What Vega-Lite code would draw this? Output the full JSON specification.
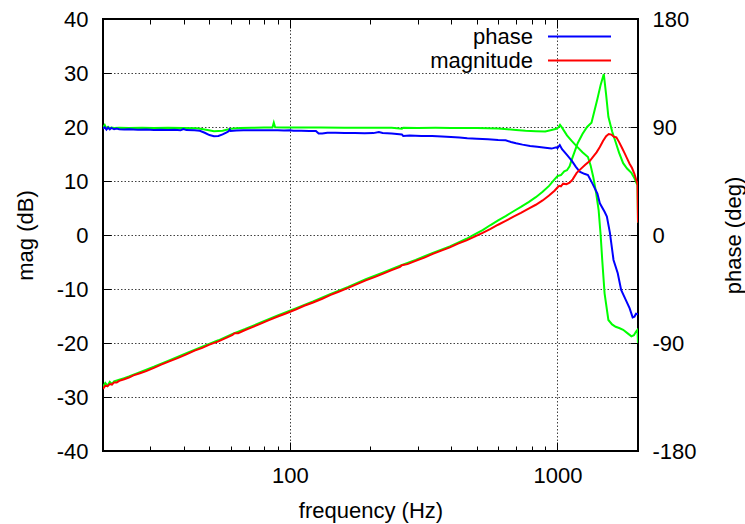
{
  "$schema": "https://vega.github.io/schema/vega-lite/v6.json",
  "width": 535,
  "height": 432,
  "autosize": {"type": "none"},
  "padding": {"left": 103, "top": 19, "right": 107, "bottom": 73},
  "background": "white",
  "config": {
    "font": "Liberation Sans",
    "view": {"stroke": "black", "strokeWidth": 2},
    "axis": {
      "domain": false,
      "labelFont": "Liberation Sans",
      "labelFontSize": 22,
      "labelColor": "black",
      "titleFont": "Liberation Sans",
      "titleFontSize": 22,
      "titleFontWeight": "normal",
      "titleColor": "black",
      "tickColor": "black",
      "tickWidth": 1,
      "gridColor": "#000000",
      "gridOpacity": 0.75,
      "gridDash": [1.5, 2],
      "gridWidth": 1,
      "labelOverlap": false,
      "labelFlush": false
    },
    "legend": {"labelFont": "Liberation Sans", "labelFontSize": 22, "labelColor": "black"}
  },
  "datasets": {
    "magnitude": [
      {"f": 20, "v": -28.5}, {"f": 20.4, "v": -27.9}, {"f": 20.8, "v": -28.0}, {"f": 21.2, "v": -27.6}, {"f": 21.6, "v": -27.7},
      {"f": 22, "v": -27.3}, {"f": 22.5, "v": -27.3}, {"f": 23, "v": -27.0}, {"f": 24, "v": -26.7}, {"f": 25, "v": -26.4},
      {"f": 26, "v": -26.0}, {"f": 27.5, "v": -25.6}, {"f": 29, "v": -25.2}, {"f": 31, "v": -24.6}, {"f": 33, "v": -24.0},
      {"f": 35, "v": -23.5}, {"f": 38, "v": -22.8}, {"f": 41, "v": -22.1}, {"f": 44, "v": -21.4}, {"f": 47, "v": -20.9},
      {"f": 50, "v": -20.3}, {"f": 54, "v": -19.7}, {"f": 58, "v": -19.0}, {"f": 61, "v": -18.5}, {"f": 62, "v": -18.2},
      {"f": 64, "v": -18.2}, {"f": 68, "v": -17.6}, {"f": 72, "v": -17.1}, {"f": 77, "v": -16.5}, {"f": 83, "v": -15.8},
      {"f": 90, "v": -15.1}, {"f": 97, "v": -14.5}, {"f": 105, "v": -13.8}, {"f": 113, "v": -13.1}, {"f": 122, "v": -12.5},
      {"f": 132, "v": -11.8}, {"f": 142, "v": -11.1}, {"f": 152, "v": -10.5}, {"f": 165, "v": -9.8}, {"f": 178, "v": -9.1},
      {"f": 192, "v": -8.4}, {"f": 207, "v": -7.8}, {"f": 222, "v": -7.2}, {"f": 240, "v": -6.5}, {"f": 258, "v": -5.9},
      {"f": 262, "v": -5.6}, {"f": 275, "v": -5.4}, {"f": 295, "v": -4.8}, {"f": 318, "v": -4.2}, {"f": 342, "v": -3.5},
      {"f": 368, "v": -2.9}, {"f": 396, "v": -2.3}, {"f": 425, "v": -1.6}, {"f": 457, "v": -1.0}, {"f": 490, "v": -0.3},
      {"f": 525, "v": 0.4}, {"f": 560, "v": 1.1}, {"f": 600, "v": 1.9}, {"f": 640, "v": 2.6}, {"f": 685, "v": 3.4},
      {"f": 730, "v": 4.1}, {"f": 780, "v": 4.9}, {"f": 830, "v": 5.6}, {"f": 880, "v": 6.4}, {"f": 930, "v": 7.3},
      {"f": 975, "v": 8.2}, {"f": 1000, "v": 8.8}, {"f": 1015, "v": 9.1}, {"f": 1030, "v": 9.0}, {"f": 1050, "v": 9.5},
      {"f": 1080, "v": 9.4}, {"f": 1110, "v": 9.7}, {"f": 1140, "v": 10.3}, {"f": 1180, "v": 11.5}, {"f": 1220, "v": 12.2},
      {"f": 1270, "v": 13.0}, {"f": 1320, "v": 13.7}, {"f": 1360, "v": 14.5}, {"f": 1400, "v": 15.3}, {"f": 1440, "v": 16.3},
      {"f": 1480, "v": 17.4}, {"f": 1520, "v": 18.3}, {"f": 1555, "v": 18.7}, {"f": 1590, "v": 18.6}, {"f": 1625, "v": 18.2},
      {"f": 1660, "v": 18.1}, {"f": 1700, "v": 17.2}, {"f": 1740, "v": 16.2}, {"f": 1780, "v": 15.2}, {"f": 1820, "v": 14.2},
      {"f": 1860, "v": 13.2}, {"f": 1900, "v": 12.4}, {"f": 1940, "v": 11.3}, {"f": 1975, "v": 10.0}, {"f": 1992, "v": 9.5},
      {"f": 2000, "v": 2.3}
    ],
    "mag2": [
      {"f": 20, "v": -28.1}, {"f": 20.4, "v": -27.4}, {"f": 20.8, "v": -27.9}, {"f": 21.2, "v": -27.2}, {"f": 21.6, "v": -27.6},
      {"f": 22, "v": -27.1}, {"f": 23, "v": -26.8}, {"f": 24, "v": -26.5}, {"f": 25, "v": -26.2}, {"f": 27.5, "v": -25.4},
      {"f": 31, "v": -24.4}, {"f": 35, "v": -23.3}, {"f": 41, "v": -21.9}, {"f": 47, "v": -20.7}, {"f": 54, "v": -19.5},
      {"f": 61, "v": -18.3}, {"f": 68, "v": -17.4}, {"f": 77, "v": -16.3}, {"f": 90, "v": -14.9}, {"f": 105, "v": -13.6},
      {"f": 122, "v": -12.3}, {"f": 142, "v": -10.9}, {"f": 165, "v": -9.6}, {"f": 192, "v": -8.2}, {"f": 222, "v": -7.0},
      {"f": 258, "v": -5.7}, {"f": 295, "v": -4.6}, {"f": 342, "v": -3.3}, {"f": 396, "v": -2.1}, {"f": 425, "v": -1.4},
      {"f": 457, "v": -0.7}, {"f": 490, "v": 0.1}, {"f": 525, "v": 0.9}, {"f": 560, "v": 1.8}, {"f": 600, "v": 2.7},
      {"f": 640, "v": 3.5}, {"f": 685, "v": 4.4}, {"f": 730, "v": 5.2}, {"f": 780, "v": 6.1}, {"f": 830, "v": 7.0},
      {"f": 880, "v": 8.0}, {"f": 930, "v": 9.1}, {"f": 975, "v": 10.3}, {"f": 1000, "v": 10.9}, {"f": 1030, "v": 11.1},
      {"f": 1060, "v": 11.8}, {"f": 1085, "v": 12.0}, {"f": 1110, "v": 12.7}, {"f": 1130, "v": 13.9}, {"f": 1160, "v": 15.5},
      {"f": 1190, "v": 17.0}, {"f": 1240, "v": 18.7}, {"f": 1290, "v": 20.0}, {"f": 1340, "v": 20.8}, {"f": 1375, "v": 23.0},
      {"f": 1410, "v": 25.2}, {"f": 1450, "v": 27.8}, {"f": 1490, "v": 29.8}, {"f": 1520, "v": 26.0}, {"f": 1550, "v": 21.9},
      {"f": 1600, "v": 19.2}, {"f": 1640, "v": 17.6}, {"f": 1700, "v": 15.2}, {"f": 1760, "v": 13.3}, {"f": 1820, "v": 12.3},
      {"f": 1890, "v": 11.5}, {"f": 1940, "v": 10.5}, {"f": 1975, "v": 9.6}, {"f": 1992, "v": 9.2}, {"f": 2000, "v": 2.3}
    ],
    "phase": [
      {"f": 20, "v": 88.5}, {"f": 20.3, "v": 89.8}, {"f": 20.6, "v": 87.8}, {"f": 20.9, "v": 89.5}, {"f": 21.2, "v": 88.0},
      {"f": 21.5, "v": 89.2}, {"f": 22, "v": 88.1}, {"f": 22.5, "v": 88.8}, {"f": 23, "v": 88.2}, {"f": 24, "v": 87.9},
      {"f": 25, "v": 88.2}, {"f": 27, "v": 87.7}, {"f": 29, "v": 87.9}, {"f": 31, "v": 87.6}, {"f": 33, "v": 87.8},
      {"f": 35, "v": 87.5}, {"f": 37, "v": 87.7}, {"f": 39, "v": 87.3}, {"f": 40, "v": 88.2}, {"f": 41, "v": 87.4},
      {"f": 44, "v": 87.2}, {"f": 46, "v": 86.8}, {"f": 48, "v": 85.2}, {"f": 50, "v": 83.3}, {"f": 52, "v": 82.3},
      {"f": 54, "v": 82.5}, {"f": 56, "v": 83.8}, {"f": 58, "v": 85.5}, {"f": 59, "v": 86.5}, {"f": 59.5, "v": 87.8},
      {"f": 60, "v": 86.7}, {"f": 63, "v": 87.1}, {"f": 67, "v": 87.2}, {"f": 72, "v": 87.2}, {"f": 78, "v": 87.3},
      {"f": 85, "v": 87.2}, {"f": 90, "v": 87.2}, {"f": 95, "v": 87.0}, {"f": 100, "v": 87.3}, {"f": 103, "v": 86.8},
      {"f": 110, "v": 86.9}, {"f": 118, "v": 86.7}, {"f": 125, "v": 86.6}, {"f": 128, "v": 84.5}, {"f": 132, "v": 84.6},
      {"f": 138, "v": 85.2}, {"f": 148, "v": 85.3}, {"f": 160, "v": 85.1}, {"f": 175, "v": 85.0}, {"f": 190, "v": 84.8},
      {"f": 205, "v": 84.9}, {"f": 215, "v": 85.8}, {"f": 222, "v": 85.0}, {"f": 240, "v": 84.5}, {"f": 262, "v": 83.8},
      {"f": 265, "v": 82.6}, {"f": 280, "v": 82.9}, {"f": 310, "v": 82.6}, {"f": 340, "v": 82.4}, {"f": 370, "v": 82.1},
      {"f": 400, "v": 81.6}, {"f": 430, "v": 81.2}, {"f": 460, "v": 80.6}, {"f": 500, "v": 80.3}, {"f": 550, "v": 79.8},
      {"f": 600, "v": 79.2}, {"f": 640, "v": 78.9}, {"f": 670, "v": 77.5}, {"f": 700, "v": 76.4}, {"f": 740, "v": 75.3},
      {"f": 790, "v": 74.2}, {"f": 840, "v": 73.5}, {"f": 900, "v": 72.8}, {"f": 950, "v": 72.0}, {"f": 990, "v": 73.0},
      {"f": 1000, "v": 72.4}, {"f": 1020, "v": 75.0}, {"f": 1040, "v": 71.5}, {"f": 1085, "v": 66.7}, {"f": 1130, "v": 62.0},
      {"f": 1170, "v": 57.0}, {"f": 1210, "v": 52.8}, {"f": 1260, "v": 51.0}, {"f": 1300, "v": 50.0}, {"f": 1350, "v": 43.0},
      {"f": 1410, "v": 34.6}, {"f": 1440, "v": 26.4}, {"f": 1500, "v": 19.4}, {"f": 1530, "v": 15.3}, {"f": 1570, "v": 2.0},
      {"f": 1620, "v": -20.8}, {"f": 1680, "v": -31.9}, {"f": 1730, "v": -45.8}, {"f": 1800, "v": -54.0}, {"f": 1860, "v": -61.0},
      {"f": 1910, "v": -68.6}, {"f": 1940, "v": -68.0}, {"f": 1967, "v": -65.6}, {"f": 2000, "v": -66.0}
    ],
    "phase2": [
      {"f": 20, "v": 89.8}, {"f": 20.3, "v": 91.8}, {"f": 20.6, "v": 88.9}, {"f": 20.9, "v": 90.2}, {"f": 21.2, "v": 89.0},
      {"f": 21.5, "v": 89.6}, {"f": 22, "v": 89.2}, {"f": 23, "v": 89.4}, {"f": 25, "v": 89.2}, {"f": 28, "v": 89.3},
      {"f": 31, "v": 89.1}, {"f": 35, "v": 89.3}, {"f": 40, "v": 89.2}, {"f": 45, "v": 89.0}, {"f": 48, "v": 88.0},
      {"f": 52, "v": 86.5}, {"f": 56, "v": 86.8}, {"f": 60, "v": 88.5}, {"f": 65, "v": 89.2}, {"f": 72, "v": 89.4},
      {"f": 80, "v": 89.5}, {"f": 86, "v": 89.6}, {"f": 87, "v": 93.6}, {"f": 88, "v": 89.8}, {"f": 95, "v": 89.6},
      {"f": 110, "v": 89.6}, {"f": 130, "v": 89.5}, {"f": 160, "v": 89.4}, {"f": 200, "v": 89.3}, {"f": 240, "v": 89.3},
      {"f": 262, "v": 88.6}, {"f": 265, "v": 89.3}, {"f": 300, "v": 89.2}, {"f": 350, "v": 89.3}, {"f": 400, "v": 89.2},
      {"f": 450, "v": 89.1}, {"f": 500, "v": 89.2}, {"f": 550, "v": 89.0}, {"f": 600, "v": 88.8}, {"f": 650, "v": 88.2},
      {"f": 700, "v": 87.5}, {"f": 760, "v": 86.9}, {"f": 830, "v": 86.5}, {"f": 900, "v": 86.2}, {"f": 950, "v": 87.5},
      {"f": 990, "v": 88.5}, {"f": 1010, "v": 89.8}, {"f": 1022, "v": 91.8}, {"f": 1040, "v": 89.5}, {"f": 1085, "v": 83.0},
      {"f": 1130, "v": 78.5}, {"f": 1183, "v": 73.6}, {"f": 1240, "v": 69.0}, {"f": 1300, "v": 65.0}, {"f": 1330, "v": 58.0},
      {"f": 1360, "v": 48.6}, {"f": 1395, "v": 35.0}, {"f": 1425, "v": 20.8}, {"f": 1450, "v": 0.0}, {"f": 1470, "v": -20.8},
      {"f": 1500, "v": -48.6}, {"f": 1550, "v": -70.8}, {"f": 1600, "v": -74.5}, {"f": 1650, "v": -76.5}, {"f": 1700, "v": -77.5},
      {"f": 1760, "v": -79.0}, {"f": 1830, "v": -82.0}, {"f": 1890, "v": -84.5}, {"f": 1930, "v": -83.5}, {"f": 1967, "v": -80.4},
      {"f": 1992, "v": -79.0}, {"f": 2000, "v": -90.0}
    ]
  },
  "layer": [
    {
      "data": {"name": "mag2"},
      "mark": {"type": "line", "stroke": "#00ff00", "strokeWidth": 2, "clip": true},
      "encoding": {
        "x": {"field": "f", "type": "quantitative", "scale": {"type": "log", "domain": [20, 2000], "nice": false},
              "axis": {"orient": "bottom", "values": [20, 30, 40, 50, 60, 70, 80, 90, 200, 300, 400, 500, 600, 700, 800, 900, 2000], "labels": false, "grid": false, "title": null, "tickSize": -5}},
        "y": {"field": "v", "type": "quantitative", "scale": {"domain": [-40, 40], "nice": false, "zero": false}, "axis": null}
      }
    },
    {
      "data": {"name": "phase2"},
      "mark": {"type": "line", "stroke": "#00ff00", "strokeWidth": 2, "clip": true},
      "encoding": {
        "x": {"field": "f", "type": "quantitative", "scale": {"type": "log", "domain": [20, 2000], "nice": false},
              "axis": {"orient": "top", "values": [100, 1000], "labels": false, "grid": false, "title": null, "tickSize": -9}},
        "y": {"field": "v", "type": "quantitative", "scale": {"domain": [-180, 180], "nice": false, "zero": false}, "axis": null}
      }
    },
    {
      "data": {"name": "phase"},
      "mark": {"type": "line", "strokeWidth": 2, "clip": true},
      "encoding": {
        "x": {"field": "f", "type": "quantitative", "scale": {"type": "log", "domain": [20, 2000], "nice": false},
              "axis": {"orient": "top", "values": [20, 30, 40, 50, 60, 70, 80, 90, 200, 300, 400, 500, 600, 700, 800, 900, 2000], "labels": false, "grid": false, "title": null, "tickSize": -5}},
        "y": {"field": "v", "type": "quantitative", "scale": {"domain": [-180, 180], "nice": false, "zero": false},
              "axis": {"orient": "right", "values": [-180, -135, -90, -45, 0, 45, 90, 135, 180], "labelExpr": "datum.value % 90 === 0 ? ('' + datum.value) : ''", "grid": false, "tickSize": -8, "labelPadding": 22, "title": "phase (deg)", "titleAngle": 270, "titleX": 95, "titleY": 216, "titleBaseline": "middle", "titleAlign": "center"}},
        "color": {"datum": "phase", "type": "nominal", "scale": {"domain": ["phase", "magnitude"], "range": ["#0000ff", "#ff0000"]},
                  "legend": {"orient": "none", "legendX": 465, "legendY": 6, "title": null, "symbolType": "M-3,0H3", "symbolSize": 441, "symbolStrokeWidth": 2, "labelAlign": "right", "labelOffset": -58, "labelFontSize": 22, "rowPadding": 1, "padding": 0}}
      }
    },
    {
      "data": {"name": "magnitude"},
      "mark": {"type": "line", "strokeWidth": 2, "clip": true},
      "encoding": {
        "x": {"field": "f", "type": "quantitative", "scale": {"type": "log", "domain": [20, 2000], "nice": false},
              "axis": {"orient": "bottom", "values": [100, 1000], "labelExpr": "'' + datum.value", "grid": true, "title": "frequency (Hz)", "tickSize": -9, "labelPadding": 33, "labelBaseline": "middle", "titleY": 59, "titleBaseline": "middle"}},
        "y": {"field": "v", "type": "quantitative", "scale": {"domain": [-40, 40], "nice": false, "zero": false},
              "axis": {"orient": "left", "values": [-40, -30, -20, -10, 0, 10, 20, 30, 40], "labelExpr": "'' + datum.value", "grid": true, "tickSize": -8, "labelPadding": 23, "title": "mag (dB)", "titleAngle": 270, "titleX": -78, "titleY": 216, "titleBaseline": "middle", "titleAlign": "center"}},
        "color": {"datum": "magnitude", "type": "nominal", "scale": {"domain": ["phase", "magnitude"], "range": ["#0000ff", "#ff0000"]},
                  "legend": {"orient": "none", "legendX": 465, "legendY": 6, "title": null, "symbolType": "M-3,0H3", "symbolSize": 441, "symbolStrokeWidth": 2, "labelAlign": "right", "labelOffset": -58, "labelFontSize": 22, "rowPadding": 1, "padding": 0}}
      }
    }
  ],
  "resolve": {"scale": {"y": "independent"}, "axis": {"x": "independent", "y": "independent"}}
}
